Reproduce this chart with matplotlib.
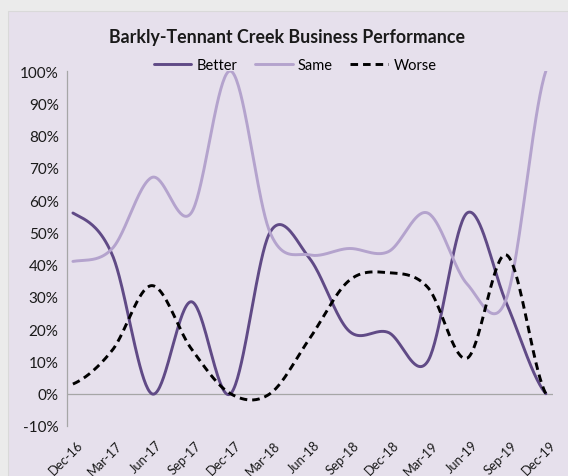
import matplotlib
matplotlib.use("Agg")
import matplotlib.pyplot as plt
import matplotlib.transforms as mtransforms
import numpy as np

# quarterly survey shares (%)
quarters = ["Dec-16", "Mar-17", "Jun-17", "Sep-17", "Dec-17", "Mar-18", "Jun-18",
            "Sep-18", "Dec-18", "Mar-19", "Jun-19", "Sep-19", "Dec-19"]
better = [56, 43, 0, 28.5, 0, 50, 42, 19.5, 19, 10, 56, 28, 0]
same = [41, 45, 67, 56, 100, 50, 43, 45, 44, 56, 34, 29.5, 100]
worse = [3, 13.5, 33.5, 14, 0, 0, 17, 35, 37.5, 33, 11, 43, 0]
yticks = [-10, 0, 10, 20, 30, 40, 50, 60, 70, 80, 90, 100]

BG = "#e6e0ec"
C_BETTER = "#604a86"
C_SAME = "#b4a3cd"


def smooth(y, n=40):
    """Excel-style smoothed line (uniform Catmull-Rom through the points)."""
    y = np.asarray(y, dtype=float)
    p = np.concatenate([[y[0]], y, [y[-1]]])
    xs, ys = [], []
    t = np.linspace(0, 1, n, endpoint=False)
    for i in range(len(y) - 1):
        p0, p1, p2, p3 = p[i], p[i + 1], p[i + 2], p[i + 3]
        m1 = (p2 - p0) / 2
        m2 = (p3 - p1) / 2
        h = ((2 * t**3 - 3 * t**2 + 1) * p1 + (t**3 - 2 * t**2 + t) * m1
             + (-2 * t**3 + 3 * t**2) * p2 + (t**3 - t**2) * m2)
        xs.append(i + t)
        ys.append(h)
    xs.append([len(y) - 1])
    ys.append([y[-1]])
    return np.concatenate(xs), np.concatenate(ys)


plt.rcParams["font.family"] = ["Lato", "DejaVu Sans"]

fig = plt.figure(figsize=(5.68, 4.77), dpi=100)
fig.patch.set_facecolor("#ebebeb")
# chart area panel (starts a little in from the top-left corner)
fig.patches.append(plt.Rectangle((8 / 568, -0.01), 1, 1.01 - 12 / 477,
                                 transform=fig.transFigure, facecolor=BG,
                                 edgecolor="#d9d9d9", linewidth=0.8, zorder=-10))

ax = fig.add_axes([67 / 568, 1 - 427 / 477, (553 - 67) / 568, (427 - 72) / 477])
ax.set_facecolor("none")
ax.set_zorder(5)

x, y = smooth(better)
ax.plot(x, y, color=C_BETTER, lw=2.1, label="Better", solid_capstyle="round")
x, y = smooth(same)
ax.plot(x, y, color=C_SAME, lw=2.1, label="Same", solid_capstyle="round")
x, y = smooth(worse)
ax.plot(x, y, color="black", lw=2.1, dashes=(2.6, 1.7), label="Worse")

ax.axhline(0, color="#a6a6a6", lw=0.9, zorder=0)

ax.set_xlim(-0.15, 12.18)
ax.set_ylim(-10, 100)
ax.set_yticks(yticks)
ax.set_yticklabels([f"{v}%" for v in yticks], fontsize=11, color="#1a1a1a")
ax.set_xticks(range(len(quarters)))
ax.set_xticklabels(quarters, rotation=45, ha="right", rotation_mode="anchor",
                   fontsize=9.3, color="#1a1a1a")
ax.tick_params(axis="both", length=0)
ax.tick_params(axis="y", pad=6)
ax.tick_params(axis="x", pad=9)
shift = mtransforms.ScaledTranslation(4 / 100, 0, fig.dpi_scale_trans)
for lab in ax.get_xticklabels():
    lab.set_transform(lab.get_transform() + shift)

for side in ["top", "right", "bottom"]:
    ax.spines[side].set_visible(False)
ax.spines["left"].set_color("#a6a6a6")
ax.spines["left"].set_linewidth(0.9)

fig.text(287 / 568, 1 - 38 / 477, "Barkly-Tennant Creek Business Performance",
         ha="center", va="center", fontsize=12.8, fontweight="bold", color="#1a1a1a")

fig.legend(loc="center", bbox_to_anchor=(295 / 568, 1 - 66 / 477), ncol=3,
           frameon=False, fontsize=10.5, handlelength=2.6, handletextpad=0.35,
           columnspacing=1.2, borderaxespad=0)

fig.savefig("out.png", dpi=100, facecolor=fig.get_facecolor())
